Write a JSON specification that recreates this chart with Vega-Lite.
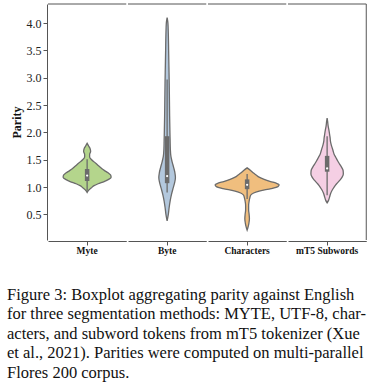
{
  "$schema": "https://vega.github.io/schema/vega-lite/v6.json",
  "padding": {"left": 7, "top": 3, "right": 5, "bottom": 0},
  "background": "white",
  "title": {
    "text": [
      "Figure 3: Boxplot aggregating parity against English",
      "for three segmentation methods: MYTE, UTF-8, char-",
      "acters, and subword tokens from mT5 tokenizer (Xue",
      "et al., 2021). Parities were computed on multi-parallel",
      "Flores 200 corpus."
    ],
    "orient": "bottom",
    "anchor": "start",
    "frame": "bounds",
    "dx": -3,
    "font": "Liberation Serif",
    "fontSize": 16.5,
    "fontWeight": "normal",
    "color": "#111111",
    "lineHeight": 19.4,
    "offset": 32
  },
  "data": {
    "values": [
      {"method": "Myte", "parity": 0.90, "left": 0, "right": 0},
      {"method": "Myte", "parity": 0.94, "left": -1.5, "right": 1.5},
      {"method": "Myte", "parity": 0.98, "left": -4, "right": 4},
      {"method": "Myte", "parity": 1.02, "left": -6.5, "right": 6.5},
      {"method": "Myte", "parity": 1.06, "left": -11, "right": 11},
      {"method": "Myte", "parity": 1.10, "left": -17, "right": 17},
      {"method": "Myte", "parity": 1.14, "left": -21.5, "right": 21.5},
      {"method": "Myte", "parity": 1.18, "left": -24, "right": 24},
      {"method": "Myte", "parity": 1.22, "left": -23.5, "right": 23.5},
      {"method": "Myte", "parity": 1.26, "left": -21, "right": 21},
      {"method": "Myte", "parity": 1.30, "left": -17.5, "right": 17.5},
      {"method": "Myte", "parity": 1.34, "left": -14.5, "right": 14.5},
      {"method": "Myte", "parity": 1.38, "left": -12, "right": 12},
      {"method": "Myte", "parity": 1.42, "left": -9.5, "right": 9.5},
      {"method": "Myte", "parity": 1.46, "left": -7, "right": 7},
      {"method": "Myte", "parity": 1.50, "left": -4.5, "right": 4.5},
      {"method": "Myte", "parity": 1.55, "left": -2.5, "right": 2.5},
      {"method": "Myte", "parity": 1.60, "left": -2.5, "right": 2.5},
      {"method": "Myte", "parity": 1.65, "left": -3.5, "right": 3.5},
      {"method": "Myte", "parity": 1.70, "left": -3, "right": 3},
      {"method": "Myte", "parity": 1.75, "left": -1.5, "right": 1.5},
      {"method": "Myte", "parity": 1.80, "left": 0, "right": 0},
      {"method": "Byte", "parity": 0.38, "left": 0, "right": 0},
      {"method": "Byte", "parity": 0.50, "left": -1.2, "right": 1.2},
      {"method": "Byte", "parity": 0.62, "left": -2, "right": 2},
      {"method": "Byte", "parity": 0.74, "left": -3, "right": 3},
      {"method": "Byte", "parity": 0.86, "left": -4.3, "right": 4.3},
      {"method": "Byte", "parity": 0.98, "left": -6, "right": 6},
      {"method": "Byte", "parity": 1.08, "left": -7.5, "right": 7.5},
      {"method": "Byte", "parity": 1.17, "left": -8.3, "right": 8.3},
      {"method": "Byte", "parity": 1.26, "left": -7.8, "right": 7.8},
      {"method": "Byte", "parity": 1.36, "left": -6.5, "right": 6.5},
      {"method": "Byte", "parity": 1.46, "left": -5, "right": 5},
      {"method": "Byte", "parity": 1.56, "left": -3.8, "right": 3.8},
      {"method": "Byte", "parity": 1.70, "left": -3.2, "right": 3.2},
      {"method": "Byte", "parity": 1.85, "left": -3, "right": 3},
      {"method": "Byte", "parity": 2.00, "left": -2.8, "right": 2.8},
      {"method": "Byte", "parity": 2.30, "left": -2.5, "right": 2.5},
      {"method": "Byte", "parity": 2.60, "left": -2.3, "right": 2.3},
      {"method": "Byte", "parity": 2.90, "left": -2.1, "right": 2.1},
      {"method": "Byte", "parity": 3.20, "left": -1.8, "right": 1.8},
      {"method": "Byte", "parity": 3.50, "left": -1.5, "right": 1.5},
      {"method": "Byte", "parity": 3.80, "left": -1.2, "right": 1.2},
      {"method": "Byte", "parity": 4.00, "left": -0.8, "right": 0.8},
      {"method": "Byte", "parity": 4.10, "left": 0, "right": 0},
      {"method": "Characters", "parity": 0.21, "left": 0, "right": 0},
      {"method": "Characters", "parity": 0.27, "left": -1, "right": 1},
      {"method": "Characters", "parity": 0.34, "left": -1.8, "right": 1.8},
      {"method": "Characters", "parity": 0.42, "left": -2.3, "right": 2.3},
      {"method": "Characters", "parity": 0.50, "left": -2, "right": 2},
      {"method": "Characters", "parity": 0.58, "left": -1.5, "right": 1.5},
      {"method": "Characters", "parity": 0.66, "left": -1.5, "right": 1.5},
      {"method": "Characters", "parity": 0.74, "left": -2, "right": 2},
      {"method": "Characters", "parity": 0.80, "left": -2.7, "right": 2.7},
      {"method": "Characters", "parity": 0.85, "left": -3.5, "right": 3.5},
      {"method": "Characters", "parity": 0.89, "left": -6.5, "right": 6.5},
      {"method": "Characters", "parity": 0.93, "left": -13, "right": 13},
      {"method": "Characters", "parity": 0.97, "left": -24, "right": 24},
      {"method": "Characters", "parity": 1.01, "left": -31, "right": 31},
      {"method": "Characters", "parity": 1.04, "left": -32, "right": 32},
      {"method": "Characters", "parity": 1.07, "left": -29, "right": 29},
      {"method": "Characters", "parity": 1.10, "left": -23.5, "right": 23.5},
      {"method": "Characters", "parity": 1.14, "left": -17, "right": 17},
      {"method": "Characters", "parity": 1.18, "left": -12, "right": 12},
      {"method": "Characters", "parity": 1.22, "left": -9, "right": 9},
      {"method": "Characters", "parity": 1.26, "left": -6, "right": 6},
      {"method": "Characters", "parity": 1.30, "left": -3.5, "right": 3.5},
      {"method": "Characters", "parity": 1.35, "left": 0, "right": 0},
      {"method": "mT5 Subwords", "parity": 0.71, "left": 0, "right": 0},
      {"method": "mT5 Subwords", "parity": 0.76, "left": -1.5, "right": 1.5},
      {"method": "mT5 Subwords", "parity": 0.82, "left": -2.5, "right": 2.5},
      {"method": "mT5 Subwords", "parity": 0.88, "left": -3.5, "right": 3.5},
      {"method": "mT5 Subwords", "parity": 0.94, "left": -5, "right": 5},
      {"method": "mT5 Subwords", "parity": 1.00, "left": -7, "right": 7},
      {"method": "mT5 Subwords", "parity": 1.06, "left": -9.5, "right": 9.5},
      {"method": "mT5 Subwords", "parity": 1.12, "left": -12.5, "right": 12.5},
      {"method": "mT5 Subwords", "parity": 1.18, "left": -15, "right": 15},
      {"method": "mT5 Subwords", "parity": 1.24, "left": -16.2, "right": 16.2},
      {"method": "mT5 Subwords", "parity": 1.30, "left": -16, "right": 16},
      {"method": "mT5 Subwords", "parity": 1.36, "left": -14.5, "right": 14.5},
      {"method": "mT5 Subwords", "parity": 1.42, "left": -12.5, "right": 12.5},
      {"method": "mT5 Subwords", "parity": 1.48, "left": -10.5, "right": 10.5},
      {"method": "mT5 Subwords", "parity": 1.54, "left": -8.75, "right": 8.75},
      {"method": "mT5 Subwords", "parity": 1.60, "left": -7, "right": 7},
      {"method": "mT5 Subwords", "parity": 1.66, "left": -6, "right": 6},
      {"method": "mT5 Subwords", "parity": 1.72, "left": -5, "right": 5},
      {"method": "mT5 Subwords", "parity": 1.78, "left": -4, "right": 4},
      {"method": "mT5 Subwords", "parity": 1.84, "left": -3.3, "right": 3.3},
      {"method": "mT5 Subwords", "parity": 1.90, "left": -3, "right": 3},
      {"method": "mT5 Subwords", "parity": 1.96, "left": -2.5, "right": 2.5},
      {"method": "mT5 Subwords", "parity": 2.04, "left": -1.8, "right": 1.8},
      {"method": "mT5 Subwords", "parity": 2.12, "left": -1, "right": 1},
      {"method": "mT5 Subwords", "parity": 2.20, "left": -0.5, "right": 0.5},
      {"method": "mT5 Subwords", "parity": 2.26, "left": 0, "right": 0},
      {"method": "Myte", "lo": 0.93, "q1": 1.11, "med": 1.21, "q3": 1.33, "hi": 1.51},
      {"method": "Byte", "lo": 0.90, "q1": 1.07, "med": 1.20, "q3": 1.93, "hi": 2.97},
      {"method": "Characters", "lo": 0.78, "q1": 0.96, "med": 1.04, "q3": 1.14, "hi": 1.24},
      {"method": "mT5 Subwords", "lo": 0.85, "q1": 1.28, "med": 1.34, "q3": 1.57, "hi": 1.93}
    ]
  },
  "facet": {
    "column": {
      "field": "method",
      "type": "nominal",
      "sort": ["Myte", "Byte", "Characters", "mT5 Subwords"],
      "header": {
        "title": null,
        "labelOrient": "bottom",
        "labelFont": "Liberation Serif",
        "labelFontWeight": "bold",
        "labelFontSize": 9.5,
        "labelColor": "#111111",
        "labelPadding": 0
      }
    }
  },
  "spacing": 0,
  "spec": {
    "width": 78.25,
    "height": 236,
    "layer": [
      {
        "transform": [{"filter": "isValid(datum.left)"}],
        "mark": {"type": "area", "orient": "horizontal", "interpolate": "monotone", "stroke": "#6b6b6b", "strokeWidth": 1.3, "fillOpacity": 1},
        "encoding": {
          "x": {
            "field": "left", "type": "quantitative",
            "scale": {"domain": [-39.125, 39.125], "nice": false, "zero": false},
            "axis": {"title": null, "labels": false, "values": [0], "tickSize": 4, "grid": false}
          },
          "x2": {"field": "right"},
          "y": {
            "field": "parity", "type": "quantitative",
            "scale": {"domain": [0.03, 4.35], "nice": false, "zero": false},
            "axis": {"title": "Parity", "values": [0.5, 1.0, 1.5, 2.0, 2.5, 3.0, 3.5, 4.0], "format": ".1f", "grid": false}
          },
          "fill": {
            "field": "method", "type": "nominal", "legend": null,
            "scale": {"domain": ["Myte", "Byte", "Characters", "mT5 Subwords"], "range": ["#b4d58c", "#b3c8dd", "#f0be7e", "#f5cfe4"]}
          }
        }
      },
      {
        "transform": [{"filter": "isValid(datum.q1)"}],
        "mark": {"type": "rule", "color": "#6b6b6b", "strokeWidth": 1.3},
        "encoding": {
          "x": {"datum": 0, "type": "quantitative", "scale": {"domain": [-39.125, 39.125], "nice": false, "zero": false}, "axis": {"title": null, "labels": false, "values": [0], "tickSize": 4, "grid": false}},
          "y": {"field": "lo", "type": "quantitative", "scale": {"domain": [0.03, 4.35], "nice": false, "zero": false}, "axis": {"title": "Parity", "values": [0.5, 1.0, 1.5, 2.0, 2.5, 3.0, 3.5, 4.0], "format": ".1f", "grid": false}},
          "y2": {"field": "hi"}
        }
      },
      {
        "transform": [{"filter": "isValid(datum.q1)"}],
        "mark": {"type": "rule", "color": "#6b6b6b", "strokeWidth": 4.5},
        "encoding": {
          "x": {"datum": 0, "type": "quantitative", "scale": {"domain": [-39.125, 39.125], "nice": false, "zero": false}, "axis": {"title": null, "labels": false, "values": [0], "tickSize": 4, "grid": false}},
          "y": {"field": "q1", "type": "quantitative", "scale": {"domain": [0.03, 4.35], "nice": false, "zero": false}, "axis": {"title": "Parity", "values": [0.5, 1.0, 1.5, 2.0, 2.5, 3.0, 3.5, 4.0], "format": ".1f", "grid": false}},
          "y2": {"field": "q3"}
        }
      },
      {
        "transform": [{"filter": "isValid(datum.q1)"}],
        "mark": {"type": "point", "filled": true, "color": "white", "size": 5, "opacity": 1},
        "encoding": {
          "x": {"datum": 0, "type": "quantitative", "scale": {"domain": [-39.125, 39.125], "nice": false, "zero": false}, "axis": {"title": null, "labels": false, "values": [0], "tickSize": 4, "grid": false}},
          "y": {"field": "med", "type": "quantitative", "scale": {"domain": [0.03, 4.35], "nice": false, "zero": false}, "axis": {"title": "Parity", "values": [0.5, 1.0, 1.5, 2.0, 2.5, 3.0, 3.5, 4.0], "format": ".1f", "grid": false}}
        }
      },
      {
        "transform": [{"filter": "isValid(datum.q1)"}],
        "mark": {"type": "rule", "color": "#555555", "strokeWidth": 1},
        "encoding": {
          "x": {"datum": -39.125, "type": "quantitative", "scale": {"domain": [-39.125, 39.125], "nice": false, "zero": false}, "axis": {"title": null, "labels": false, "values": [0], "tickSize": 4, "grid": false}},
          "x2": {"datum": 39.125},
          "y": {"datum": 4.35, "type": "quantitative", "scale": {"domain": [0.03, 4.35], "nice": false, "zero": false}, "axis": {"title": "Parity", "values": [0.5, 1.0, 1.5, 2.0, 2.5, 3.0, 3.5, 4.0], "format": ".1f", "grid": false}}
        }
      },
      {
        "transform": [{"filter": "datum.method === 'mT5 Subwords' && isValid(datum.q1)"}],
        "mark": {"type": "rule", "color": "#555555", "strokeWidth": 1},
        "encoding": {
          "x": {"datum": 39.125, "type": "quantitative", "scale": {"domain": [-39.125, 39.125], "nice": false, "zero": false}, "axis": {"title": null, "labels": false, "values": [0], "tickSize": 4, "grid": false}},
          "y": {"datum": 0.03, "type": "quantitative", "scale": {"domain": [0.03, 4.35], "nice": false, "zero": false}, "axis": {"title": "Parity", "values": [0.5, 1.0, 1.5, 2.0, 2.5, 3.0, 3.5, 4.0], "format": ".1f", "grid": false}},
          "y2": {"datum": 4.35}
        }
      }
    ]
  },
  "config": {
    "view": {"stroke": null},
    "axis": {"domainWidth": 1, "tickWidth": 1, "domainColor": "#555555", "tickColor": "#555555", "grid": false},
    "axisY": {"labelOverlap": false, "labelFont": "Liberation Serif", "labelFontSize": 12, "labelColor": "#222222", "labelPadding": 2, "tickSize": 4, "titleFont": "Liberation Serif", "titleFontWeight": "bold", "titleFontSize": 12, "titleColor": "#111111", "titlePadding": 3}
  }
}
